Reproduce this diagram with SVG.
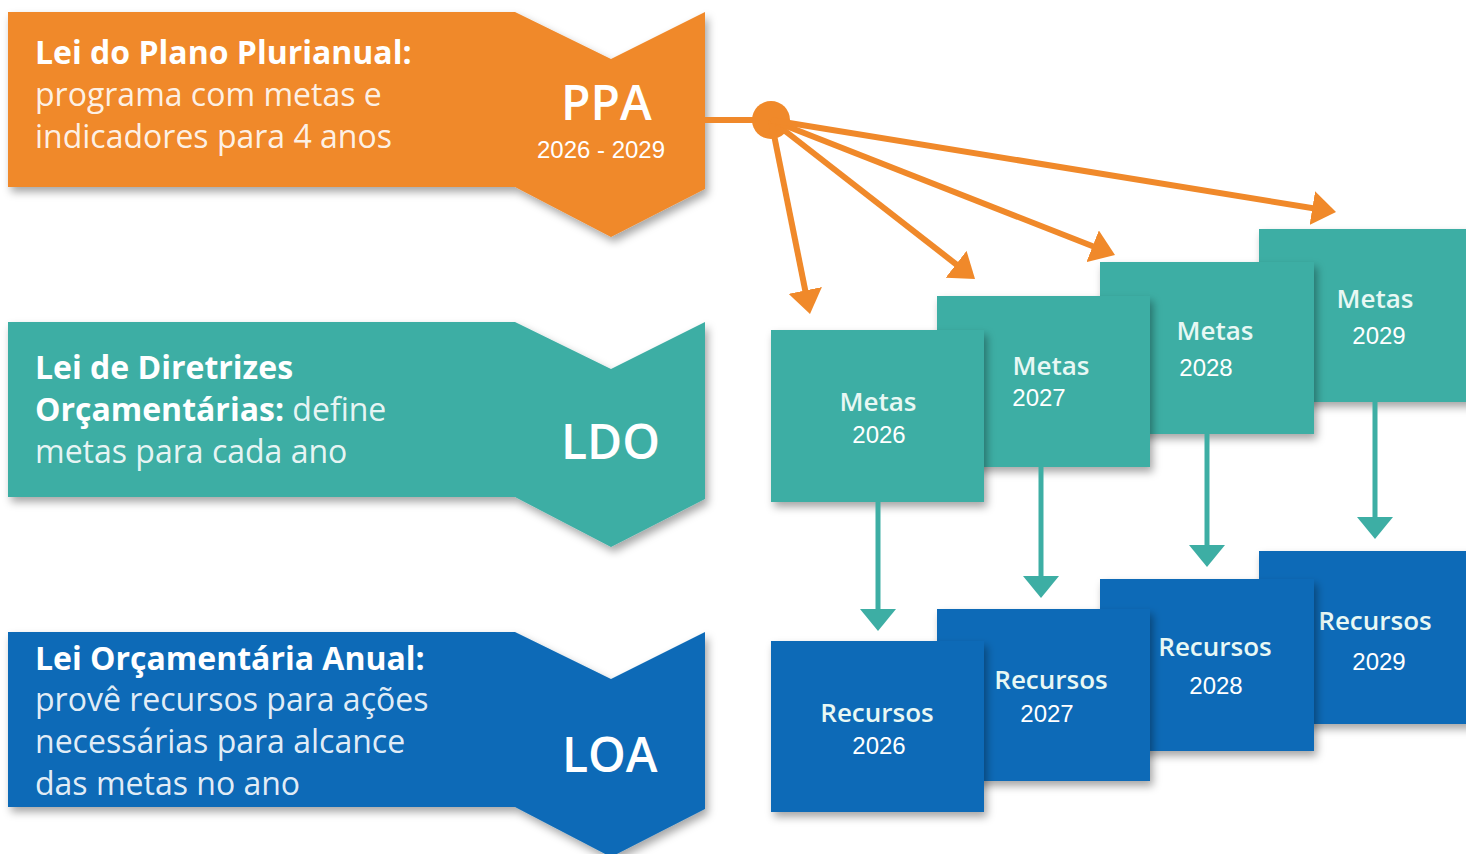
<svg xmlns="http://www.w3.org/2000/svg" width="1466" height="854" viewBox="0 0 1466 854">
<defs>
<filter id="sh" x="-10%" y="-10%" width="130%" height="140%">
<feDropShadow dx="3" dy="5" stdDeviation="4" flood-color="#000" flood-opacity="0.35"/>
</filter>
<marker id="ao" markerUnits="userSpaceOnUse" markerWidth="24" markerHeight="34" viewBox="0 0 24 34" refX="18" refY="17" orient="auto">
<path d="M0,0 L24,17 L0,34 Z" fill="#F0892A"/>
</marker>
<marker id="at" markerUnits="userSpaceOnUse" markerWidth="22" markerHeight="36" viewBox="0 0 22 36" refX="16" refY="18" orient="auto">
<path d="M0,0 L22,18 L0,36 Z" fill="#3DAEA4"/>
</marker>
</defs>
<style>
.orange{fill:#F0892A}
.teal{fill:#3DAEA4}
.blue{fill:#0B6BB7}
.hb{font-family:"Open Sans","Noto Sans",sans-serif;font-weight:700;font-size:32px;fill:#ffffff}
.hr{font-family:"Open Sans","Noto Sans",sans-serif;font-weight:400;font-size:32px;fill:#ffffff;fill-opacity:0.9}
.big{font-family:"Open Sans","Noto Sans",sans-serif;font-weight:600;font-size:48px;fill:#ffffff}
.yr{font-family:"Liberation Sans",Arial,sans-serif;font-size:24px;fill:#ffffff;text-anchor:middle}
.lbl{font-family:"Open Sans","Noto Sans",sans-serif;font-weight:600;font-size:26px;fill:#E8F8F4;text-anchor:middle}
.co{stroke:#F0892A;stroke-width:6;fill:none}
.ct{stroke:#3DAEA4;stroke-width:5;fill:none}
</style>

<g id="ppa">
<path class="orange" filter="url(#sh)" d="M8,12 L515,12 L611,59 L705,12 L705,189 L611,237 L515,187 L8,187 Z"/>
<text class="hb" x="35" y="64">Lei do Plano Plurianual:</text>
<text class="hr" x="35" y="106">programa com metas e</text>
<text class="hr" x="35" y="148">indicadores para 4 anos</text>
<text class="big" x="561" y="120">PPA</text>
<text class="yr" x="601" y="158">2026 - 2029</text>
</g>

<g id="ldo">
<path class="teal" filter="url(#sh)" d="M8,322 L515,322 L611,369 L705,322 L705,499 L611,547 L515,497 L8,497 Z"/>
<text class="hb" x="35" y="379">Lei de Diretrizes</text>
<text x="35" y="421"><tspan class="hb">Orçamentárias:</tspan><tspan class="hr"> define</tspan></text>
<text class="hr" x="35" y="463">metas para cada ano</text>
<text class="big" x="561" y="459">LDO</text>
</g>

<g id="loa">
<path class="blue" filter="url(#sh)" d="M8,632 L515,632 L611,679 L705,632 L705,809 L611,857 L515,807 L8,807 Z"/>
<text class="hb" x="35" y="670">Lei Orçamentária Anual:</text>
<text class="hr" x="35" y="711">provê recursos para ações</text>
<text class="hr" x="35" y="753">necessárias para alcance</text>
<text class="hr" x="35" y="795">das metas no ano</text>
<text class="big" x="562" y="772">LOA</text>
</g>

<g id="metas-2029">
<rect class="teal" filter="url(#sh)" x="1259" y="229" width="213" height="173"/>
<text class="lbl" x="1375" y="308">Metas</text>
<text class="yr" x="1379" y="344">2029</text>
</g>
<g id="metas-2028">
<rect class="teal" filter="url(#sh)" x="1100" y="262" width="214" height="172"/>
<text class="lbl" x="1215" y="340">Metas</text>
<text class="yr" x="1206" y="376">2028</text>
</g>
<g id="metas-2027">
<rect class="teal" filter="url(#sh)" x="937" y="296" width="213" height="171"/>
<text class="lbl" x="1051" y="375">Metas</text>
<text class="yr" x="1039" y="406">2027</text>
</g>
<g id="metas-2026">
<rect class="teal" filter="url(#sh)" x="771" y="330" width="213" height="172"/>
<text class="lbl" x="878" y="411">Metas</text>
<text class="yr" x="879" y="443">2026</text>
</g>

<g id="recursos-2029">
<rect class="blue" filter="url(#sh)" x="1259" y="551" width="213" height="173"/>
<text class="lbl" x="1375" y="630">Recursos</text>
<text class="yr" x="1379" y="670">2029</text>
</g>
<g id="recursos-2028">
<rect class="blue" filter="url(#sh)" x="1100" y="579" width="214" height="172"/>
<text class="lbl" x="1215" y="656">Recursos</text>
<text class="yr" x="1216" y="694">2028</text>
</g>
<g id="recursos-2027">
<rect class="blue" filter="url(#sh)" x="937" y="609" width="213" height="172"/>
<text class="lbl" x="1051" y="689">Recursos</text>
<text class="yr" x="1047" y="722">2027</text>
</g>
<g id="recursos-2026">
<rect class="blue" filter="url(#sh)" x="771" y="641" width="213" height="171"/>
<text class="lbl" x="877" y="722">Recursos</text>
<text class="yr" x="879" y="754">2026</text>
</g>

<g id="connectors">
<line class="co" x1="705" y1="120" x2="771" y2="120"/>
<circle cx="771" cy="120" r="19" fill="#F0892A"/>
<line class="co" x1="771" y1="120" x2="808.8" y2="308.1" marker-end="url(#ao)"/>
<line class="co" x1="771" y1="120" x2="970.3" y2="275.3" marker-end="url(#ao)"/>
<line class="co" x1="771" y1="120" x2="1109.4" y2="252.8" marker-end="url(#ao)"/>
<line class="co" x1="771" y1="120" x2="1330.1" y2="211" marker-end="url(#ao)"/>
<line class="ct" x1="878" y1="502" x2="878" y2="625" marker-end="url(#at)"/>
<line class="ct" x1="1041" y1="467" x2="1041" y2="592" marker-end="url(#at)"/>
<line class="ct" x1="1207" y1="434" x2="1207" y2="561" marker-end="url(#at)"/>
<line class="ct" x1="1375" y1="402" x2="1375" y2="533" marker-end="url(#at)"/>
</g>
</svg>
